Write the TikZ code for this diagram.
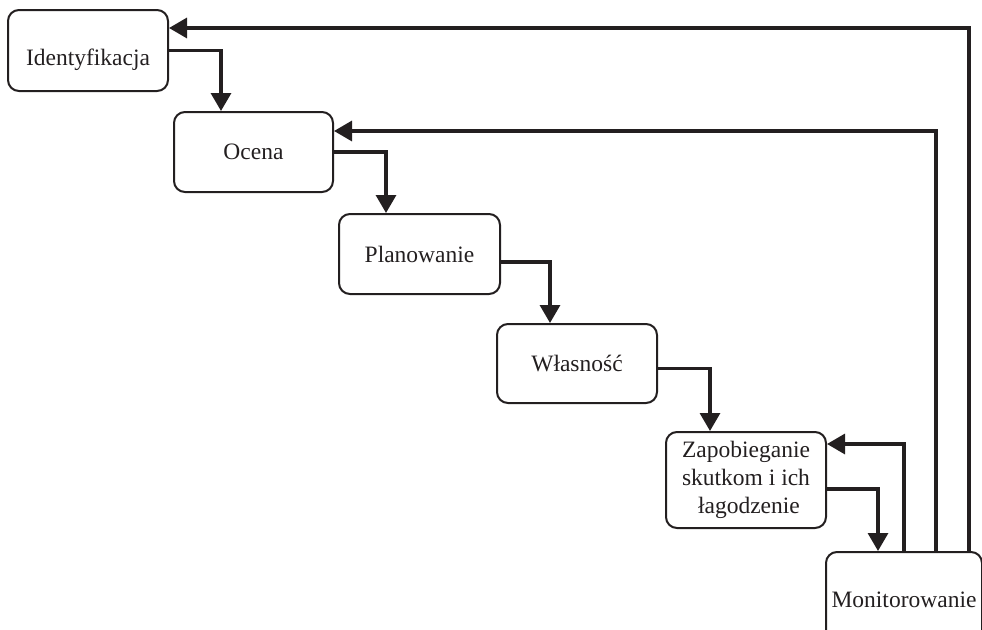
\documentclass[tikz,border=0pt]{standalone}
\usepackage{fontspec}
\setmainfont{Liberation Serif}
\usetikzlibrary{arrows.meta}
\definecolor{ink}{HTML}{231F20}
\tikzset{
  stage/.style={draw=ink, line width=2pt, rounded corners=11pt, inner sep=0pt,
    text=ink, font=\fontsize{23.5}{28}\selectfont, align=center},
  flow/.style={draw=ink, line width=3.2pt, -{Triangle[width=20pt,length=18pt]}}
}
\begin{document}
\begin{tikzpicture}[x=1pt,y=-1pt]
\useasboundingbox (0,0) rectangle (982,629);
\node[stage, minimum width=160pt, minimum height=81pt, text height=35pt, text depth=6pt] (id) at (88,50.5) {Identyfikacja};
\node[stage, minimum width=159pt, minimum height=80pt] (oc) at (253.5,152) {Ocena};
\node[stage, minimum width=161pt, minimum height=80pt] (pl) at (419.5,254) {Planowanie};
\node[stage, minimum width=160pt, minimum height=79pt] (wl) at (577,363.5) {Własność};
\node[stage, minimum width=160pt, minimum height=96pt] (za) at (746,480) {Zapobieganie\\skutkom i ich\\\ łagodzenie};
\node[stage, minimum width=156pt, minimum height=96pt] (mo) at (904,600) {Monitorowanie};
% forward flow
\draw[flow] (id.east) -| ([xshift=48pt]oc.north west);
\draw[flow] (oc.east) -| ([xshift=48pt]pl.north west);
\draw[flow] ([yshift=-8pt]pl.east) -| ([xshift=54pt]wl.north west);
\draw[flow] ([yshift=-5pt]wl.east) -| ([xshift=45pt]za.north west);
\draw[flow] ([yshift=-9pt]za.east) -| ([xshift=53pt]mo.north west);
% feedback
\draw[flow] ([xshift=79pt]mo.north west) |- ([yshift=36pt]za.east);
\draw[flow] ([xshift=111pt]mo.north west) |- ([yshift=21pt]oc.east);
\draw[flow] ([xshift=144pt]mo.north west) |- ([yshift=22.5pt]id.east);
\end{tikzpicture}
\end{document}
